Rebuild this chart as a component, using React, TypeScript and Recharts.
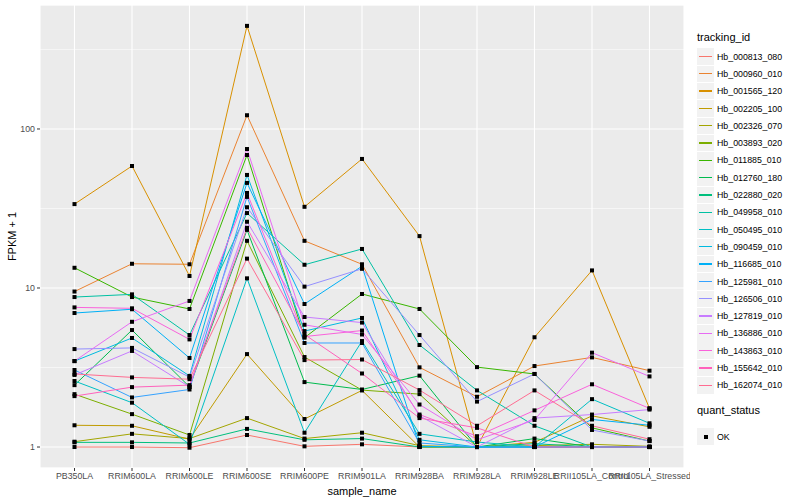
import { LineChart, Line, XAxis, YAxis, CartesianGrid } from "recharts";

const samples = [
  "PB350LA",
  "RRIM600LA",
  "RRIM600LE",
  "RRIM600SE",
  "RRIM600PE",
  "RRIM901LA",
  "RRIM928BA",
  "RRIM928LA",
  "RRIM928LE",
  "RRII105LA_Control",
  "RRII105LA_Stressed",
];

const trackingIds = [
  "Hb_000813_080",
  "Hb_000960_010",
  "Hb_001565_120",
  "Hb_002205_100",
  "Hb_002326_070",
  "Hb_003893_020",
  "Hb_011885_010",
  "Hb_012760_180",
  "Hb_022880_020",
  "Hb_049958_010",
  "Hb_050495_010",
  "Hb_090459_010",
  "Hb_116685_010",
  "Hb_125981_010",
  "Hb_126506_010",
  "Hb_127819_010",
  "Hb_136886_010",
  "Hb_143863_010",
  "Hb_155642_010",
  "Hb_162074_010",
];

const colors = [
  "#F8766D", "#EA8331", "#D89000", "#C09B00", "#A3A500",
  "#7CAE00", "#39B600", "#00BB4E", "#00BF7D", "#00C1A3",
  "#00BFC4", "#00BAE0", "#00B0F6", "#35A2FF", "#9590FF",
  "#C77CFF", "#E76BF3", "#FA62DB", "#FF62BC", "#FF6C91",
];

// FPKM + 1 per sample
const hb000813 = [1.0, 1.0, 0.99, 1.19, 1.01, 1.04, 1.0, 1.0, 1.0, 1.0, 1.0];
const hb000960 = [9.5, 14.2, 14.1, 122, 19.8, 14.1, 3.17, 2.07, 3.23, 3.66, 3.02];
const hb001565 = [33.7, 58.5, 11.9, 445, 32.4, 64.8, 21.2, 1.0, 4.9, 12.9, 1.75];
const hb002205 = [1.37, 1.36, 1.12, 3.84, 1.5, 2.27, 1.0, 1.0, 1.07, 1.57, 1.34];
const hb002326 = [1.08, 1.21, 1.13, 1.52, 1.13, 1.23, 1.02, 1.0, 1.02, 1.04, 1.01];
const hb003893 = [2.15, 1.61, 1.19, 19.8, 3.68, 2.28, 2.15, 1.0, 1.0, 1.0, 1.0];
const hb011885 = [13.4, 8.77, 7.38, 68.6, 4.87, 9.17, 7.38, 3.18, 2.88, 1.32, 1.09];
const hb012760 = [2.45, 5.44, 2.39, 23.2, 2.56, 2.3, 2.81, 1.0, 1.13, 1.0, 1.0];
const hb022880 = [1.07, 1.07, 1.06, 1.3, 1.11, 1.13, 1.0, 1.0, 1.05, 1.0, 1.0];
const hb049958 = [8.77, 9.12, 5.06, 29.6, 14.0, 17.6, 4.38, 2.27, 1.36, 1.0, 1.0];
const hb050495 = [2.6, 1.9, 1.04, 11.5, 1.23, 4.64, 1.21, 1.075, 1.0, 2.0, 1.41];
const hb090459 = [3.47, 4.85, 2.8, 51.4, 5.36, 6.48, 1.11, 1.0, 1.0, 1.0, 1.0];
const hb116685 = [6.96, 7.35, 3.63, 45.8, 7.93, 13.7, 1.01, 1.0, 1.0, 1.49, 1.37];
const hb125981 = [3.05, 2.05, 2.3, 37.4, 4.51, 4.51, 1.06, 1.0, 1.0, 1.0, 1.0];
const hb126506 = [4.13, 4.2, 2.75, 32.2, 10.2, 13.2, 5.06, 1.93, 2.88, 1.28, 1.09];
const hb127819 = [2.84, 4.02, 2.39, 26.1, 6.57, 6.06, 1.57, 1.0, 1.52, 1.6, 1.72];
const hb136886 = [3.47, 6.13, 8.29, 74.8, 5.87, 5.1, 1.85, 1.11, 1.48, 3.92, 2.78];
const hb143863 = [7.55, 7.45, 4.75, 39.6, 4.95, 5.4, 1.6, 1.17, 1.7, 2.48, 1.75];
const hb155642 = [2.09, 2.38, 2.45, 23.9, 5.1, 2.9, 1.52, 1.32, 1.0, 1.0, 1.0];
const hb162074 = [2.88, 2.74, 2.67, 15.3, 3.52, 3.55, 2.28, 1.36, 2.27, 1.36, 1.12];

const seriesValues = [
  hb000813, hb000960, hb001565, hb002205, hb002326,
  hb003893, hb011885, hb012760, hb022880, hb049958,
  hb050495, hb090459, hb116685, hb125981, hb126506,
  hb127819, hb136886, hb143863, hb155642, hb162074,
];

const majorTicks = [1, 10, 100];
const minorTicks = [3.1623, 31.623, 316.23];
const yDomain = [0.738, 602];

const rows = samples.map((s, i) => {
  const r: any = { idx: i, sample: s };
  trackingIds.forEach((id, k) => {
    r[id] = seriesValues[k][i];
  });
  return r;
});

const font = "'Liberation Sans', Arial, Helvetica, sans-serif";

function SquareDot(props: any) {
  const { cx, cy, index, dataKey } = props;
  if (cx == null || cy == null) return null;
  return (
    <rect key={`${dataKey}-${index}`} x={cx - 2} y={cy - 2} width={4} height={4} fill="#000" />
  );
}

export default function App() {
  return (
    <div
      style={{
        position: "absolute",
        left: 0,
        top: 0,
        width: 800,
        height: 500,
        background: "#fff",
        fontFamily: font,
      }}
    >
      <LineChart width={690} height={500} data={rows} margin={{ top: 5, right: 6, bottom: 0, left: 0 }}>
        <CartesianGrid yAxisId="minor" vertical={false} stroke="#fff" strokeWidth={0.55} fill="#EBEBEB" />
        <CartesianGrid stroke="#fff" strokeWidth={1.1} />
        <XAxis
          dataKey="idx"
          type="number"
          domain={[-0.6, 10.6]}
          ticks={samples.map((_, i) => i)}
          tickFormatter={(v) => samples[v]}
          interval={0}
          height={32}
          axisLine={false}
          tickSize={3}
          tickMargin={2}
          tickLine={{ stroke: "#333" }}
          tick={{ fill: "#4D4D4D", fontSize: 8.8, fontFamily: font }}
          label={{ value: "sample_name", position: "insideBottom", offset: 5, fill: "#000", fontSize: 11, fontFamily: font }}
        />
        <YAxis
          scale="log"
          domain={yDomain}
          allowDataOverflow
          ticks={majorTicks}
          width={40}
          axisLine={false}
          tickSize={3}
          tickMargin={2}
          tickLine={{ stroke: "#333" }}
          tick={{ fill: "#4D4D4D", fontSize: 8.8, fontFamily: font }}
          label={{
            value: "FPKM + 1",
            angle: -90,
            position: "insideLeft",
            offset: 12,
            fill: "#000",
            fontSize: 11,
            fontFamily: font,
            style: { textAnchor: "middle" },
          }}
        />
        <YAxis yAxisId="minor" scale="log" domain={yDomain} allowDataOverflow ticks={minorTicks} hide />
        {trackingIds.map((id, k) => (
          <Line
            key={id}
            dataKey={id}
            stroke={colors[k]}
            strokeWidth={1}
            type="linear"
            dot={SquareDot}
            activeDot={false}
            isAnimationActive={false}
          />
        ))}
      </LineChart>

      <div style={{ position: "absolute", left: 697, top: 31, fontSize: 11, color: "#000" }}>tracking_id</div>
      {trackingIds.map((id, k) => (
        <div
          key={id}
          style={{
            position: "absolute",
            left: 697,
            top: 48 + k * 17.3,
            height: 17.3,
            display: "flex",
            alignItems: "center",
          }}
        >
          <div
            style={{
              width: 17,
              height: 16.5,
              background: "#F2F2F2",
              position: "relative",
            }}
          >
            <div
              style={{
                position: "absolute",
                left: 2,
                right: 2,
                top: 7.5,
                height: 1.3,
                background: colors[k],
              }}
            />
          </div>
          <span style={{ marginLeft: 3, fontSize: 8.8, color: "#000" }}>{id}</span>
        </div>
      ))}
      <div style={{ position: "absolute", left: 697, top: 404, fontSize: 11, color: "#000" }}>quant_status</div>
      <div
        style={{
          position: "absolute",
          left: 697,
          top: 428,
          height: 17.3,
          display: "flex",
          alignItems: "center",
        }}
      >
        <div style={{ width: 17, height: 16.5, background: "#F2F2F2", position: "relative" }}>
          <div style={{ position: "absolute", left: 6.5, top: 6.3, width: 4, height: 4, background: "#000" }} />
        </div>
        <span style={{ marginLeft: 3, fontSize: 8.8, color: "#000" }}>OK</span>
      </div>
    </div>
  );
}
